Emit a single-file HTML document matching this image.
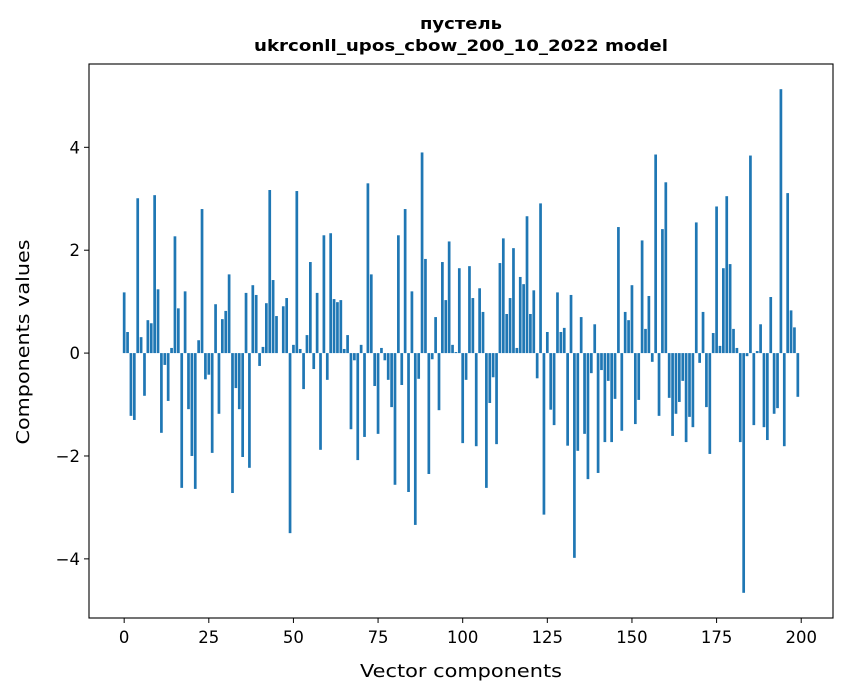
<!DOCTYPE html>
<html><head><meta charset="utf-8">
<style>
html,body{margin:0;padding:0;background:#fff;}
svg{display:block;font-family:"DejaVu Sans","Liberation Sans",sans-serif;}
</style></head>
<body>
<svg id="chart" width="847" height="696" viewBox="0 0 847 696" xmlns="http://www.w3.org/2000/svg">
<rect width="847" height="696" fill="#fff"/>
<text x="461" y="29" text-anchor="middle" font-size="16" font-weight="bold" textLength="82" lengthAdjust="spacingAndGlyphs">пустель</text>
<text x="461" y="51" text-anchor="middle" font-size="16" font-weight="bold" textLength="414" lengthAdjust="spacingAndGlyphs">ukrconll_upos_cbow_200_10_2022 model</text>
<g id="bars"></g>
<g id="xticks"></g>
<g id="yticks"></g>
<rect x="89" y="64" width="744" height="554" fill="none" stroke="#000" stroke-width="1.1"/>
<text x="461" y="677" text-anchor="middle" font-size="18" textLength="202" lengthAdjust="spacingAndGlyphs">Vector components</text>
<text transform="translate(29,342) rotate(-90)" text-anchor="middle" font-size="18" textLength="205" lengthAdjust="spacingAndGlyphs">Components values</text>
</svg>
<script>
const values = [1.18,0.41,-1.22,-1.30,3.01,0.31,-0.83,0.64,0.58,3.07,1.24,-1.55,-0.23,-0.93,0.10,2.27,0.87,-2.62,1.20,-1.09,-2.00,-2.64,0.25,2.80,-0.51,-0.42,
-1.94,0.95,-1.18,0.66,0.82,1.53,-2.72,-0.68,-1.09,-2.02,1.17,-2.23,1.32,1.13,-0.25,0.12,0.97,3.17,1.42,0.72,0.0,0.91,1.07,-3.50,
0.16,3.15,0.08,-0.70,0.35,1.77,-0.31,1.17,-1.88,2.29,-0.52,2.33,1.05,0.99,1.03,0.08,0.35,-1.48,-0.14,-2.08,0.16,-1.63,3.30,1.53,
-0.64,-1.57,0.10,-0.14,-0.52,-1.05,-2.56,2.29,-0.62,2.80,-2.70,1.20,-3.34,-0.50,3.90,1.83,-2.35,-0.12,0.70,-1.11,1.77,1.03,2.17,0.16,0.02,
1.65,-1.75,-0.52,1.69,1.07,-1.81,1.26,0.80,-2.62,-0.97,-0.47,-1.77,1.75,2.23,0.76,1.07,2.04,0.10,1.48,1.34,2.66,0.76,1.22,-0.49,2.91,-3.14,
0.41,-1.10,-1.40,1.18,0.41,0.49,-1.80,1.13,-3.98,-1.90,0.70,-1.57,-2.45,-0.39,0.56,-2.33,-0.33,-1.73,-0.54,-1.73,-0.89,2.45,-1.51,0.80,0.64,
1.32,-1.38,-0.91,2.19,0.47,1.11,-0.17,3.86,-1.22,2.41,3.32,-0.87,-1.61,-1.18,-0.95,-0.54,-1.73,-1.24,-1.44,2.54,-0.19,0.80,-1.05,-1.96,0.39,
2.85,0.14,1.65,3.05,1.73,0.47,0.10,-1.73,-4.66,-0.06,3.84,-1.40,0.04,0.56,-1.44,-1.69,1.09,-1.18,-1.07,5.13,-1.81,3.11,0.83,0.50,-0.85];
const xTicks = [0,25,50,75,100,125,150,175,200];
const yTicks = [-4,-2,0,2,4];

const L=89,R=833,T=64,B=618;
const n=values.length;
const xmin=-0.4-0.05*(n-0.2), xmax=n-1+0.4+0.05*(n-0.2);
const vmax=Math.max(...values), vmin=Math.min(...values), pad=0.05*(vmax-vmin);
const ymin=vmin-pad, ymax=vmax+pad;
const xs=v=>L+(v-xmin)/(xmax-xmin)*(R-L);
const ys=v=>B-(v-ymin)/(ymax-ymin)*(B-T);
const NS="http://www.w3.org/2000/svg";
const gb=document.getElementById('bars');
values.forEach((v,i)=>{
  const r=document.createElementNS(NS,'rect');
  
  
  const x0=xs(i-0.4), x1=xs(i+0.4), y0=ys(0), y1=ys(v);
  r.setAttribute('x',x0); r.setAttribute('width',x1-x0);
  r.setAttribute('y',Math.min(y0,y1)); r.setAttribute('height',Math.abs(y1-y0));
  r.setAttribute('fill','#1f77b4');
  gb.appendChild(r);
});
const gx=document.getElementById('xticks');
xTicks.forEach(t=>{
  const x=xs(t);
  const l=document.createElementNS(NS,'line');
  
  
  l.setAttribute('x1',x);l.setAttribute('x2',x);l.setAttribute('y1',B);l.setAttribute('y2',B+5);l.setAttribute('stroke','#000');
  gx.appendChild(l);
  const tx=document.createElementNS(NS,'text');
  
  
  tx.setAttribute('x',x);tx.setAttribute('y',B+25);tx.setAttribute('text-anchor','middle');tx.setAttribute('font-size','16.5');
  tx.textContent=t; gx.appendChild(tx);
});
const gy=document.getElementById('yticks');
yTicks.forEach(t=>{
  const y=ys(t);
  const l=document.createElementNS(NS,'line');
  
  
  l.setAttribute('x1',L-5);l.setAttribute('x2',L);l.setAttribute('y1',y);l.setAttribute('y2',y);l.setAttribute('stroke','#000');
  gy.appendChild(l);
  const tx=document.createElementNS(NS,'text');
  
  
  tx.setAttribute('x',L-9);tx.setAttribute('y',y+6);tx.setAttribute('text-anchor','end');tx.setAttribute('font-size','16.5');
  tx.textContent=(t<0?'\u2212':'')+Math.abs(t); gy.appendChild(tx);
});
</script>
</body></html>
